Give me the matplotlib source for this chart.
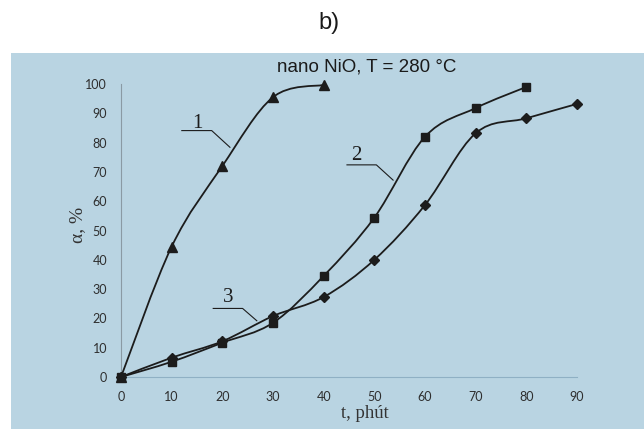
import numpy as np
import matplotlib
matplotlib.use("Agg")
import matplotlib.pyplot as plt
from matplotlib.path import Path
from matplotlib.patches import PathPatch, Rectangle

# ---- data ----
t1 = [0, 10, 20, 30, 40]
a1 = [0, 44.5, 72, 95.5, 99.7]
t2 = [0, 10, 20, 30, 40, 50, 60, 70, 80]
a2 = [0, 5.2, 11.7, 18.5, 34.5, 54.4, 82, 91.8, 99]
t3 = [0, 10, 20, 30, 40, 50, 60, 70, 80, 90]
a3 = [0, 6.6, 12.2, 20.8, 27.3, 40, 58.7, 83.2, 88.3, 93.2]
xticks = [0, 10, 20, 30, 40, 50, 60, 70, 80, 90]
yticks = [0, 10, 20, 30, 40, 50, 60, 70, 80, 90, 100]

BG = "#b9d4e2"
INK = "#1c1c1c"

fig = plt.figure(figsize=(6.44, 4.29), dpi=100)
fig.patch.set_facecolor("white")
bg = Rectangle((11 / 644, 0), 1 - 11 / 644, 1 - 53 / 429,
               transform=fig.transFigure, facecolor=BG,
               edgecolor="none", zorder=-10)
fig.add_artist(bg)

ax = fig.add_axes([121 / 644, 1 - 377 / 429, 456 / 644, 293 / 429])
ax.set_zorder(1)
ax.set_facecolor("none")
ax.set_xlim(0, 90)
ax.set_ylim(0, 100)


def smooth(ax, x, y):
    x = np.asarray(x, float)
    y = np.asarray(y, float)
    P = np.column_stack([x, y])
    n = len(P)
    verts = [P[0]]
    codes = [Path.MOVETO]
    for i in range(n - 1):
        p0 = P[i - 1] if i > 0 else P[i]
        p1 = P[i]
        p2 = P[i + 1]
        p3 = P[i + 2] if i + 2 < n else P[i + 1]
        c1 = p1 + (p2 - p0) / 6.0
        c2 = p2 - (p3 - p1) / 6.0
        verts += [c1, c2, p2]
        codes += [Path.CURVE4] * 3
    patch = PathPatch(Path(verts, codes), facecolor="none", edgecolor=INK,
                      lw=1.3, transform=ax.transData, clip_on=False, zorder=3)
    ax.add_patch(patch)


for x, y, m, ms in [(t1, a1, "^", 6.5), (t2, a2, "s", 5.5), (t3, a3, "D", 5)]:
    smooth(ax, x, y)
    ax.plot(x, y, linestyle="none", marker=m, ms=ms, color=INK,
            clip_on=False, zorder=4)

# axes styling
for s in ["top", "right"]:
    ax.spines[s].set_visible(False)
ax.spines["left"].set_color("#8a9aa4")
ax.spines["bottom"].set_color("#8fb0c4")
ax.spines["left"].set_linewidth(0.8)
ax.spines["bottom"].set_linewidth(0.8)
ax.set_xticks(xticks)
ax.set_yticks(yticks)
ax.tick_params(length=0, labelsize=9, labelcolor="#2e2e2e", pad=10)
for lab in ax.get_xticklabels() + ax.get_yticklabels():
    lab.set_family("Lato")

# curve labels with leaders
labels = [("1", (15.1, 86.5), (12.0, 17.9, 84.1), (21.5, 78.4)),
          ("2", (46.5, 75.5), (44.6, 50.4, 72.4), (53.7, 67.2)),
          ("3", (21.2, 27.0), (18.2, 24.0, 23.4), (26.8, 19.2))]
for txt, (tx, ty), (ux0, ux1, uy), (ex, ey) in labels:
    ax.text(tx, ty, txt, family="Liberation Serif", fontsize=15,
            color=INK, ha="center", va="center", zorder=5)
    ax.plot([ux0, ux1, ex], [uy, uy, ey], color=INK, lw=0.8, zorder=5,
            clip_on=False)

fig.text(367 / 644, 1 - 67 / 429, "nano NiO, T = 280 °C",
         family="Liberation Sans", fontsize=13.5, color="#1a1a1a",
         ha="center", va="center")
fig.text(329 / 644, 1 - 23 / 429, "b)", family="Liberation Sans",
         fontsize=17, color="#1a1a1a", ha="center", va="center")
fig.text(365 / 644, 1 - 418 / 429, "t, phút", family="Liberation Serif",
         fontsize=13.5, color="#333333", ha="center", va="baseline")
fig.text(78 / 644, 1 - 225 / 429, "α, %", family="Liberation Serif",
         fontsize=14, color="#333333", ha="center", va="center",
         rotation=90)

fig.savefig("out.png", dpi=100, facecolor=fig.get_facecolor())
